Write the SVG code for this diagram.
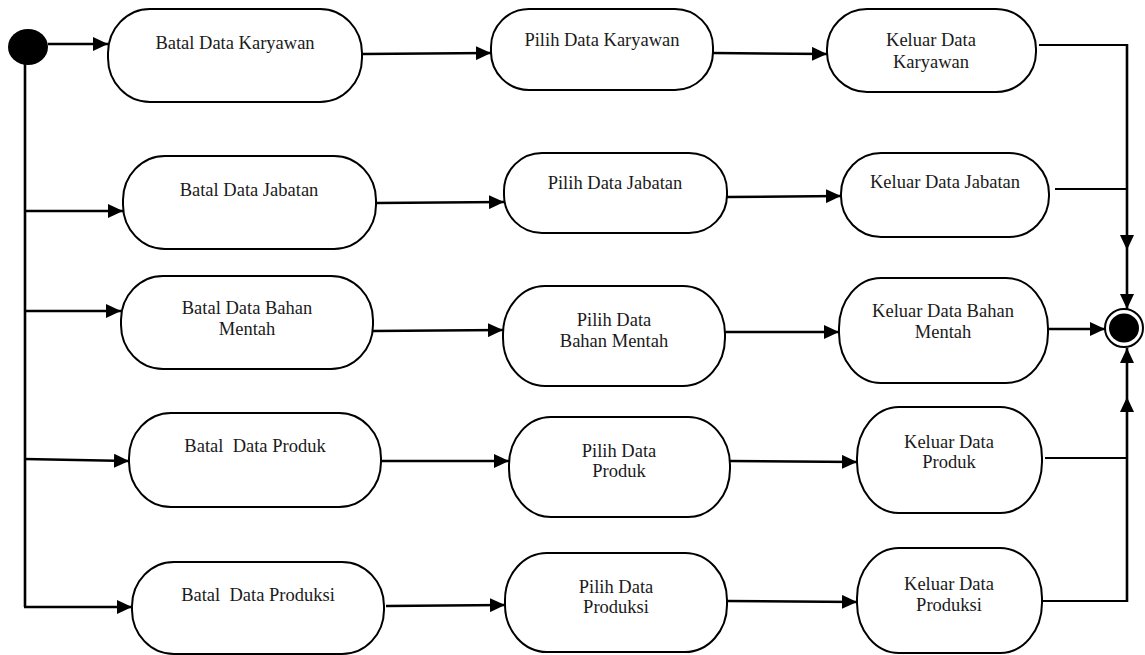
<svg xmlns="http://www.w3.org/2000/svg" width="1145" height="655" viewBox="0 0 1145 655">
<defs>
<style>
.n rect{fill:#fff;stroke:#000;stroke-width:2}
.n text{font-family:"Liberation Serif","Times New Roman",serif;font-size:18.5px;fill:#1a1a1a;text-anchor:middle;white-space:pre}
.c line{stroke:#000;stroke-width:2.6;fill:none}
.c line.t{stroke-width:1.8}
.c line.a{marker-end:url(#ah)}
</style>
<marker id="ah" markerUnits="userSpaceOnUse" markerWidth="16" markerHeight="14" refX="15" refY="7" orient="auto">
<path d="M0,0 L15,7 L0,14 Z" fill="#000"/>
</marker>
</defs>
<rect width="1145" height="655" fill="#fff"/>
<g id="connectors" class="c">
<line class="a" x1="48" y1="44" x2="108" y2="44"/>
<line x1="25" y1="63" x2="25" y2="607"/>
<line class="a" x1="24" y1="211" x2="123" y2="211"/>
<line class="a" x1="24" y1="311" x2="121" y2="311"/>
<line class="a" x1="24" y1="459" x2="129" y2="461"/>
<line class="a" x1="24" y1="607" x2="132" y2="607"/>
<line class="a" x1="362" y1="54" x2="491" y2="53"/>
<line class="a" x1="376" y1="203" x2="504" y2="202"/>
<line class="a" x1="373" y1="331" x2="503" y2="330"/>
<line class="a" x1="381" y1="461" x2="509" y2="461"/>
<line class="a" x1="386" y1="606" x2="505" y2="605"/>
<line class="a" x1="713" y1="53" x2="827" y2="54"/>
<line class="a" x1="727" y1="197" x2="841" y2="196"/>
<line class="a" x1="725" y1="332" x2="839" y2="332"/>
<line class="a" x1="730" y1="461" x2="857" y2="462"/>
<line class="a" x1="727" y1="601" x2="857" y2="602"/>
<line class="t" x1="1039" y1="45" x2="1128" y2="45"/>
<line class="t" x1="1055" y1="189" x2="1128" y2="189"/>
<line class="a" x1="1049" y1="329" x2="1105" y2="329"/>
<line class="t" x1="1045" y1="458" x2="1128" y2="458"/>
<line class="t" x1="1043" y1="601" x2="1128" y2="601"/>
<line class="a" x1="1127" y1="44" x2="1127" y2="250"/>
<line class="a" x1="1127" y1="250" x2="1127" y2="309"/>
<line class="a" x1="1127" y1="602" x2="1127" y2="397"/>
<line class="a" x1="1127" y1="397" x2="1127" y2="348"/>
</g>
<g id="start">
<ellipse cx="28" cy="47" rx="20" ry="18" fill="#000"/>
</g>
<g id="end">
<circle cx="1124" cy="328" r="19" fill="#fff" stroke="#000" stroke-width="2"/>
<ellipse cx="1124" cy="328" rx="15" ry="14.5" fill="#000"/>
</g>
<g id="batal-karyawan" class="n"><rect x="108" y="9" width="254" height="93" rx="42" ry="44"/><text x="235" y="49">Batal Data Karyawan</text></g>
<g id="batal-jabatan" class="n"><rect x="123" y="156" width="253" height="93" rx="42" ry="44"/><text x="249" y="196">Batal Data Jabatan</text></g>
<g id="batal-bahan" class="n"><rect x="121" y="276" width="252" height="93" rx="42" ry="44"/><text x="247" y="314">Batal Data Bahan</text><text x="247" y="335">Mentah</text></g>
<g id="batal-produk" class="n"><rect x="129" y="413" width="252" height="94" rx="42" ry="45"/><text x="255" y="452">Batal  Data Produk</text></g>
<g id="batal-produksi" class="n"><rect x="132" y="562" width="252" height="92" rx="42" ry="44"/><text x="258" y="601">Batal  Data Produksi</text></g>
<g id="pilih-karyawan" class="n"><rect x="491" y="9" width="222" height="81" rx="38" ry="38"/><text x="602" y="46">Pilih Data Karyawan</text></g>
<g id="pilih-jabatan" class="n"><rect x="504" y="153" width="223" height="80" rx="38" ry="38"/><text x="615" y="189">Pilih Data Jabatan</text></g>
<g id="pilih-bahan" class="n"><rect x="503" y="286" width="222" height="100" rx="42" ry="48"/><text x="614" y="326">Pilih Data</text><text x="614" y="347">Bahan Mentah</text></g>
<g id="pilih-produk" class="n"><rect x="509" y="417" width="221" height="100" rx="42" ry="48"/><text x="619" y="457">Pilih Data</text><text x="619" y="477">Produk</text></g>
<g id="pilih-produksi" class="n"><rect x="505" y="553" width="222" height="99" rx="42" ry="47"/><text x="616" y="593">Pilih Data</text><text x="616" y="613">Produksi</text></g>
<g id="keluar-karyawan" class="n"><rect x="827" y="9" width="209" height="83" rx="40" ry="40"/><text x="931" y="46">Keluar Data</text><text x="931" y="68">Karyawan</text></g>
<g id="keluar-jabatan" class="n"><rect x="841" y="153" width="208" height="84" rx="40" ry="41"/><text x="945" y="188">Keluar Data Jabatan</text></g>
<g id="keluar-bahan" class="n"><rect x="839" y="278" width="209" height="105" rx="42" ry="50"/><text x="943" y="317">Keluar Data Bahan</text><text x="943" y="338">Mentah</text></g>
<g id="keluar-produk" class="n"><rect x="857" y="407" width="185" height="106" rx="42" ry="51"/><text x="949" y="448">Keluar Data</text><text x="949" y="468">Produk</text></g>
<g id="keluar-produksi" class="n"><rect x="857" y="548" width="185" height="105" rx="42" ry="50"/><text x="949" y="590">Keluar Data</text><text x="949" y="611">Produksi</text></g>
</svg>
